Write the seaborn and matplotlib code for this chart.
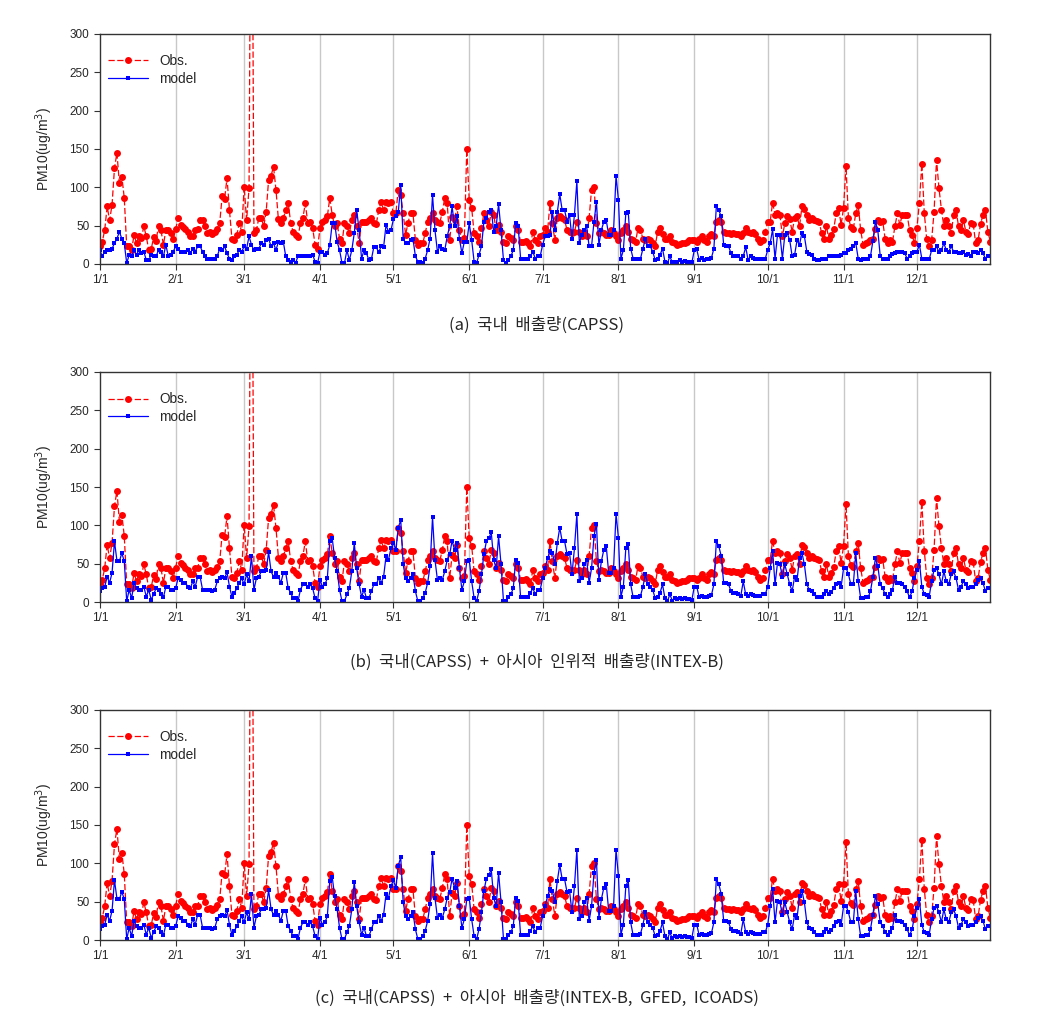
import numpy as np
import matplotlib
matplotlib.use('Agg')
import matplotlib.pyplot as plt
import seaborn as sns

# daily values for one year (day 0 = 1/1)
days = np.arange(365)
month_starts = [0, 31, 59, 90, 120, 151, 181, 212, 243, 273, 304, 334]
month_labels = ['1/1', '2/1', '3/1', '4/1', '5/1', '6/1', '7/1', '8/1',
                '9/1', '10/1', '11/1', '12/1']

obs = [
    23, 29, 44, 75, 57, 77, 125, 145, 105, 114,
    86, 23, 23, 18, 38, 27, 37, 34, 49, 36,
    18, 19, 35, 30, 50, 44, 25, 44, 44, 41,
    32, 45, 60, 51, 48, 45, 42, 36, 36, 44,
    45, 57, 57, 50, 41, 42, 39, 42, 46, 53,
    88, 85, 112, 70, 33, 31, 38, 53, 42, 101,
    57, 99, 700, 40, 44, 60, 60, 49, 68, 110,
    115, 127, 97, 58, 53, 60, 70, 80, 54, 42,
    38, 35, 53, 60, 79, 54, 55, 47, 25, 20,
    47, 55, 57, 62, 86, 64, 49, 53, 33, 27,
    53, 49, 40, 57, 64, 49, 27, 55, 55, 55,
    57, 60, 53, 52, 70, 81, 70, 81, 79, 81,
    66, 66, 97, 90, 66, 38, 54, 66, 66, 31,
    25, 27, 27, 40, 55, 60, 66, 57, 55, 54,
    68, 86, 79, 31, 61, 57, 75, 44, 31, 34,
    150, 83, 73, 40, 36, 29, 47, 66, 57, 49,
    68, 64, 44, 51, 42, 29, 27, 36, 34, 31,
    49, 44, 29, 29, 30, 27, 23, 42, 31, 27,
    36, 38, 47, 42, 79, 53, 31, 60, 62, 60,
    57, 44, 42, 40, 42, 55, 42, 36, 42, 36,
    60, 97, 101, 53, 40, 42, 40, 38, 38, 44,
    40, 37, 31, 40, 44, 49, 42, 33, 31, 29,
    47, 44, 33, 31, 33, 31, 27, 23, 42, 47,
    39, 33, 33, 36, 29, 27, 25, 26, 27, 27,
    29, 31, 31, 31, 29, 32, 36, 31, 29, 36,
    39, 36, 55, 57, 55, 42, 40, 41, 39, 41,
    39, 39, 36, 40, 47, 42, 40, 42, 39, 33,
    29, 31, 42, 55, 55, 80, 64, 66, 64, 36,
    53, 62, 58, 42, 60, 62, 49, 75, 72, 64,
    57, 60, 57, 56, 55, 41, 33, 49, 33, 38,
    46, 66, 73, 51, 73, 128, 60, 48, 46, 66,
    77, 44, 25, 27, 29, 31, 33, 46, 57, 55,
    56, 33, 27, 31, 29, 49, 66, 51, 64, 64,
    64, 44, 38, 27, 47, 80, 131, 67, 32, 23,
    31, 68, 136, 99, 71, 49, 57, 49, 40, 64,
    70, 49, 44, 57, 42, 39, 54, 52, 27, 31,
    52, 64, 70, 42, 29,
]

model_a = [
    18, 10, 16, 18, 18, 20, 27, 33, 42, 33,
    27, 1, 12, 10, 18, 12, 18, 14, 16, 5,
    5, 12, 10, 10, 18, 16, 10, 25, 10, 12,
    16, 23, 20, 16, 16, 16, 18, 14, 20, 16,
    23, 23, 16, 10, 7, 7, 7, 7, 10, 20,
    18, 23, 14, 7, 5, 10, 12, 18, 16, 23,
    20, 36, 25, 18, 20, 20, 27, 25, 31, 33,
    23, 27, 18, 29, 27, 29, 10, 5, 3, 5,
    1, 10, 10, 10, 10, 10, 10, 12, 3, 1,
    16, 16, 12, 14, 25, 53, 53, 29, 18, 1,
    1, 18, 5, 18, 40, 70, 44, 7, 18, 14,
    5, 6, 22, 22, 15, 23, 22, 51, 42, 44,
    58, 62, 68, 103, 33, 27, 27, 31, 33, 10,
    3, 3, 1, 7, 18, 33, 90, 44, 16, 23,
    20, 18, 36, 49, 75, 49, 62, 33, 14, 29,
    29, 53, 31, 3, 1, 12, 23, 55, 60, 68,
    71, 42, 49, 78, 44, 5, 1, 5, 10, 18,
    53, 49, 7, 6, 6, 7, 10, 16, 7, 10,
    10, 25, 36, 36, 38, 68, 44, 68, 91, 70,
    70, 55, 64, 33, 64, 108, 27, 38, 44, 49,
    23, 23, 55, 81, 25, 44, 55, 57, 38, 38,
    44, 115, 83, 7, 18, 66, 68, 20, 7, 7,
    7, 7, 20, 33, 23, 23, 16, 5, 7, 12,
    20, 3, 1, 10, 2, 3, 3, 5, 3, 4,
    3, 3, 2, 18, 19, 5, 8, 5, 6, 7,
    8, 20, 75, 70, 62, 25, 23, 23, 14, 10,
    10, 10, 6, 10, 22, 5, 10, 8, 7, 6,
    6, 6, 7, 18, 27, 45, 7, 38, 38, 7,
    38, 40, 31, 10, 12, 31, 25, 41, 36, 16,
    13, 12, 7, 5, 5, 6, 7, 7, 10, 10,
    11, 10, 10, 12, 14, 14, 18, 20, 23, 27,
    7, 5, 6, 6, 6, 10, 30, 55, 44, 10,
    7, 7, 6, 10, 13, 14, 16, 15, 15, 14,
    7, 10, 14, 15, 16, 25, 7, 6, 6, 6,
    18, 18, 23, 15, 18, 27, 18, 16, 23, 16,
    15, 14, 14, 15, 12, 13, 10, 16, 15, 14,
    18, 14, 7, 10, 10,
]

model_b = [
    15, 18, 20, 33, 25, 38, 79, 54, 53, 64,
    53, 1, 16, 5, 25, 18, 16, 16, 20, 7,
    16, 3, 10, 18, 16, 10, 6, 20, 20, 16,
    16, 18, 31, 29, 25, 25, 20, 18, 27, 20,
    33, 33, 16, 16, 16, 16, 14, 16, 27, 31,
    33, 31, 39, 20, 7, 12, 18, 25, 31, 23,
    36, 27, 60, 16, 31, 33, 40, 40, 42, 65,
    40, 33, 38, 33, 25, 38, 38, 18, 12, 5,
    5, 1, 16, 23, 23, 20, 23, 18, 5, 1,
    29, 20, 23, 31, 79, 83, 57, 40, 16, 1,
    1, 10, 18, 40, 77, 44, 23, 7, 16, 5,
    5, 14, 23, 23, 31, 25, 33, 60, 55, 70,
    77, 68, 97, 107, 49, 31, 27, 31, 36, 14,
    1, 1, 5, 12, 25, 47, 111, 55, 29, 32,
    29, 40, 55, 62, 80, 68, 77, 44, 16, 27,
    53, 55, 27, 5, 1, 14, 36, 62, 79, 83,
    91, 55, 44, 86, 49, 1, 1, 7, 10, 18,
    55, 51, 6, 6, 6, 7, 12, 18, 10, 16,
    16, 31, 44, 57, 66, 64, 49, 77, 97, 79,
    79, 62, 64, 36, 70, 115, 27, 31, 49, 55,
    25, 44, 86, 102, 29, 53, 68, 73, 38, 38,
    44, 115, 83, 7, 20, 70, 76, 23, 6, 7,
    7, 8, 20, 36, 23, 20, 16, 5, 7, 12,
    23, 5, 1, 10, 2, 5, 4, 5, 4, 5,
    4, 4, 3, 20, 20, 6, 8, 6, 7, 8,
    9, 23, 79, 73, 60, 25, 25, 23, 14, 12,
    12, 11, 8, 27, 10, 8, 10, 9, 8, 8,
    8, 10, 10, 20, 44, 67, 23, 51, 49, 33,
    49, 36, 23, 14, 33, 29, 57, 64, 49, 23,
    16, 14, 10, 6, 6, 7, 10, 15, 10, 13,
    18, 23, 25, 20, 44, 45, 36, 23, 23, 64,
    27, 5, 5, 6, 6, 14, 33, 57, 47, 23,
    18, 10, 6, 10, 16, 33, 25, 25, 23, 19,
    14, 6, 14, 31, 42, 53, 20, 10, 9, 7,
    27, 42, 44, 36, 23, 40, 27, 23, 36, 40,
    31, 16, 20, 27, 23, 18, 20, 20, 23, 29,
    31, 25, 14, 18, 18,
]

model_c = [
    15, 18, 20, 33, 25, 38, 78, 54, 53, 63,
    53, 1, 16, 5, 25, 18, 16, 16, 20, 7,
    16, 3, 10, 18, 16, 10, 6, 20, 20, 16,
    16, 18, 31, 29, 25, 25, 20, 18, 27, 20,
    33, 33, 16, 16, 16, 16, 14, 16, 27, 31,
    33, 31, 39, 20, 7, 12, 18, 25, 31, 23,
    36, 27, 60, 16, 31, 33, 40, 40, 42, 65,
    40, 33, 38, 33, 25, 38, 38, 18, 12, 5,
    5, 1, 16, 23, 23, 20, 23, 18, 5, 1,
    29, 20, 23, 31, 77, 82, 57, 40, 16, 1,
    1, 10, 18, 40, 76, 44, 23, 7, 16, 5,
    5, 14, 23, 23, 31, 25, 33, 60, 55, 70,
    78, 68, 97, 108, 49, 31, 27, 31, 36, 14,
    1, 1, 5, 12, 25, 47, 113, 55, 29, 32,
    29, 40, 55, 62, 80, 68, 77, 44, 16, 27,
    53, 55, 27, 5, 1, 14, 36, 64, 80, 85,
    92, 55, 44, 88, 49, 1, 1, 7, 10, 18,
    55, 51, 6, 6, 6, 7, 12, 18, 10, 16,
    16, 31, 44, 57, 66, 64, 49, 77, 98, 79,
    79, 62, 64, 36, 70, 118, 27, 31, 49, 55,
    25, 44, 88, 104, 29, 53, 68, 73, 38, 38,
    44, 118, 83, 7, 20, 70, 78, 23, 6, 7,
    7, 8, 20, 36, 23, 20, 16, 5, 7, 12,
    23, 5, 1, 10, 2, 5, 4, 5, 4, 5,
    4, 4, 3, 20, 20, 6, 8, 6, 7, 8,
    9, 23, 79, 73, 60, 25, 25, 23, 14, 12,
    12, 11, 8, 27, 10, 8, 10, 9, 8, 8,
    8, 10, 10, 20, 44, 67, 23, 51, 49, 33,
    49, 36, 23, 14, 33, 29, 57, 64, 49, 23,
    16, 14, 10, 6, 6, 7, 10, 15, 10, 13,
    18, 23, 25, 20, 44, 45, 36, 23, 23, 64,
    27, 5, 5, 6, 6, 14, 33, 57, 47, 23,
    18, 10, 6, 10, 16, 33, 25, 25, 23, 19,
    14, 6, 14, 31, 42, 53, 20, 10, 9, 7,
    27, 42, 44, 36, 23, 40, 27, 23, 36, 40,
    31, 16, 20, 27, 23, 18, 20, 20, 23, 29,
    31, 25, 14, 18, 18,
]

captions = [
    '(a)  국내  배출량(CAPSS)',
    '(b)  국내(CAPSS)  +  아시아  인위적  배출량(INTEX-B)',
    '(c)  국내(CAPSS)  +  아시아  배출량(INTEX-B,  GFED,  ICOADS)',
]

sns.set_style('ticks')
plt.rcParams['font.family'] = ['Liberation Sans', 'Noto Sans CJK KR', 'DejaVu Sans']

fig = plt.figure(figsize=(10.44, 10.18), dpi=100)

bottoms = [0.7407, 0.4086, 0.0766]
caption_y = [0.676, 0.345, 0.015]

for model, bottom, cap, cy in zip([model_a, model_b, model_c], bottoms, captions, caption_y):
    ax = fig.add_axes([0.0956, bottom, 0.853, 0.226])
    for m in month_starts[1:]:
        ax.axvline(m, color='#c8c8c8', lw=1, zorder=0)
    sns.lineplot(x=days, y=obs, ax=ax, color='#ff0000', linestyle=(0, (5, 2)),
                 linewidth=0.9, marker='o', markersize=5, markeredgewidth=0,
                 label='Obs.')
    sns.lineplot(x=days, y=model, ax=ax, color='#0000ff', linewidth=0.9,
                 marker='s', markersize=3, markeredgewidth=0, label='model')
    ax.set_xlim(0, 364)
    ax.set_ylim(0, 300)
    ax.set_xticks(month_starts)
    ax.set_xticklabels(month_labels)
    ax.set_yticks(range(0, 301, 50))
    ax.tick_params(labelsize=8.5, length=4, width=0.8, color='#333333')
    for s in ax.spines.values():
        s.set_color('#333333')
        s.set_linewidth(1)
    ax.set_xlabel('')
    ax.set_ylabel('PM10(ug/m$^3$)', fontsize=10)
    ax.yaxis.set_label_coords(-0.05, 0.5)
    ax.legend(loc='upper left', frameon=False, fontsize=9.8,
              bbox_to_anchor=(-0.005, 0.965), handlelength=3.0, labelspacing=0.25)
    fig.text(0.514, cy, cap, ha='center', fontsize=12,
             family=['Noto Sans CJK KR', 'DejaVu Sans'])

plt.savefig('out.png', dpi=100)
